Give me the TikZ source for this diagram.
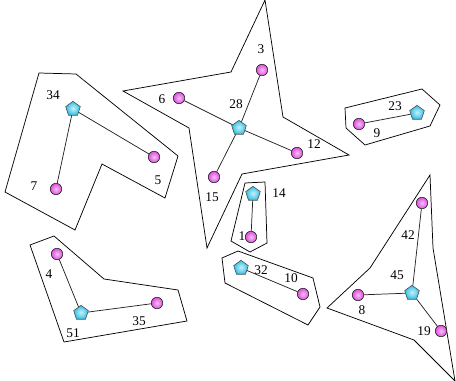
\documentclass[tikz,border=0pt]{standalone}
\usepackage{fontspec}
\setmainfont{Liberation Serif}
\usetikzlibrary{shapes.geometric}
\definecolor{rose}{HTML}{DE4EDE}
\definecolor{sky}{HTML}{2EC0E6}
\definecolor{ink}{HTML}{222222}
\tikzset{hub/.style={regular polygon,regular polygon sides=5,minimum size=11.5pt,inner sep=0pt,
  draw=ink!80,inner color=sky!25,outer color=sky,line width=0.45pt},
  leaf/.style={circle,minimum size=8.6pt,inner sep=0pt,draw=ink,
  inner color=rose!35,outer color=rose,line width=0.45pt},
  hull/.style={draw=black,line width=0.55pt,line join=miter},
  link/.style={draw=ink,line width=0.55pt},
  tag/.style={font=\fontsize{10}{12}\selectfont,inner sep=0pt}}
\begin{document}
\begin{tikzpicture}[x=0.75pt,y=-0.75pt]
\useasboundingbox (0,0) rectangle (456,381);
% hulls
\draw[hull] (39,73)--(76,74)--(178,156)--(165,198)--(102,164)--(75,230)--(5,192)--cycle;
\draw[hull] (265,0)--(283,117)--(349,155)--(242,174)--(207,248)--(189,128)--(123,91)--(231,72)--cycle;
\draw[hull] (245,183)--(265,182)--(267,243)--(250,252)--(231,241)--cycle;
\draw[hull] (345,108)--(422,89)--(440,105)--(430,126)--(365,145)--(346,128)--cycle;
\draw[hull] (222,258)--(238,251)--(313,278)--(320,307)--(308,325)--(225,283)--cycle;
\draw[hull] (30,245)--(54,236)--(104,279)--(178,290)--(187,321)--(64,342)--cycle;
\draw[hull] (430,175)--(433,248)--(455,381)--(414,340)--(327,308)--(370,268)--cycle;
% centres and members
\node[hub] (n34) at (73,109) {};
\node[leaf] (n5) at (154,157) {};
\node[leaf] (n7) at (56,189) {};
\node[hub] (n28) at (239,128) {};
\node[leaf] (n3) at (262,70) {};
\node[leaf] (n6) at (179,98) {};
\node[leaf] (n12) at (297,153) {};
\node[leaf] (n15) at (214,177) {};
\node[hub] (n14) at (253,194) {};
\node[leaf] (n1) at (251,237) {};
\node[hub] (n23) at (417,113) {};
\node[leaf] (n9) at (359,124) {};
\node[hub] (n32) at (241,268) {};
\node[leaf] (n10) at (303,294) {};
\node[hub] (n51) at (81,313) {};
\node[leaf] (n4) at (57,254) {};
\node[leaf] (n35) at (157,303) {};
\node[hub] (n45) at (412,293) {};
\node[leaf] (n42) at (422,203) {};
\node[leaf] (n8) at (358,295) {};
\node[leaf] (n19) at (441,331) {};
\draw[link] (n34)--(n5);\draw[link] (n34)--(n7);
\draw[link] (n28)--(n3);\draw[link] (n28)--(n6);\draw[link] (n28)--(n12);\draw[link] (n28)--(n15);
\draw[link] (n14)--(n1);
\draw[link] (n23)--(n9);
\draw[link] (n32)--(n10);
\draw[link] (n51)--(n4);\draw[link] (n51)--(n35);
\draw[link] (n45)--(n42);\draw[link] (n45)--(n8);\draw[link] (n45)--(n19);
% labels
\node[tag] (t34) at (53,95) {34};
\node[tag] (t5) at (158,180) {5};
\node[tag] (t7) at (34,186) {7};
\node[tag] (t28) at (236,104) {28};
\node[tag] (t3) at (261,49) {3};
\node[tag] (t6) at (162,99) {6};
\node[tag] (t12) at (314,144) {12};
\node[tag] (t15) at (212,197) {15};
\node[tag] (t14) at (279,193) {14};
\node[tag] (t1) at (242,236) {1};
\node[tag] (t23) at (395,106) {23};
\node[tag] (t9) at (377,133) {9};
\node[tag] (t32) at (261,270) {32};
\node[tag] (t10) at (291,278) {10};
\node[tag] (t4) at (49,274) {4};
\node[tag] (t51) at (73,333) {51};
\node[tag] (t35) at (139,321) {35};
\node[tag] (t42) at (408,235) {42};
\node[tag] (t45) at (397,275) {45};
\node[tag] (t8) at (362,310) {8};
\node[tag] (t19) at (424,331) {19};
\end{tikzpicture}
\end{document}
